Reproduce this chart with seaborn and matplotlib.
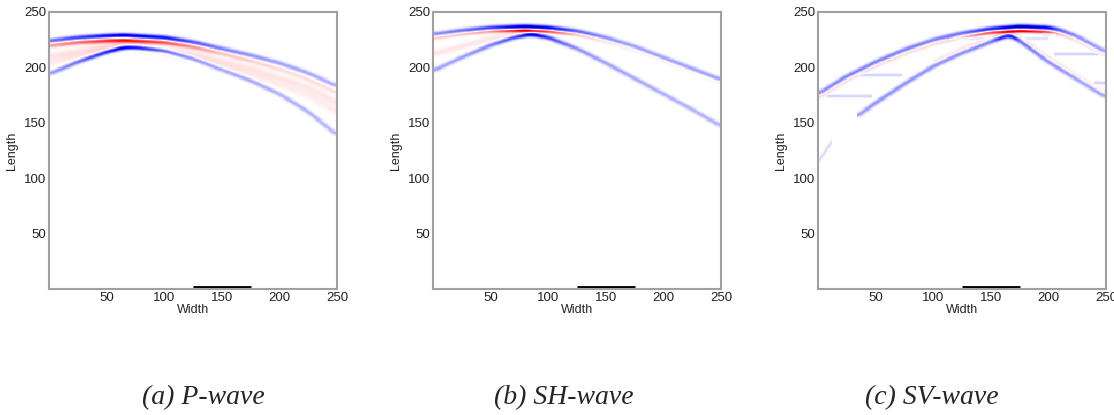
import numpy as np
import seaborn as sns
from matplotlib import pyplot as plt
from matplotlib.colors import LinearSegmentedColormap

sns.set_style('white')
plt.rcParams['font.family'] = ['Liberation Sans', 'DejaVu Sans']

# --- wavefront traces: x positions, y (Length), amplitude (+ red, - blue)
# (a) P-wave
pa_top_x = [0, 25, 50, 65, 100, 125, 150, 175, 200, 225, 250]
pa_top_y = [224, 227, 228.5, 229, 227, 223, 217, 211, 204, 195, 183]
pa_top_a = [-0.45, -0.6, -0.8, -0.9, -0.75, -0.55, -0.4, -0.35, -0.3, -0.28, -0.25]
pa_red_y = [219.5, 222.5, 224, 224.5, 222.5, 218.5, 212.5, 206, 198.5, 189, 177]
pa_red_a = [0.3, 0.45, 0.65, 0.75, 0.55, 0.35, 0.2, 0.15, 0.12, 0.1, 0.1]
pa_bot_x = [0, 25, 50, 65, 75, 100, 125, 150, 175, 200, 225, 250]
pa_bot_y = [194, 205, 214, 218, 218, 215, 208, 198, 188, 176, 160, 139]
pa_bot_a = [-0.3, -0.45, -0.75, -0.95, -0.9, -0.6, -0.4, -0.3, -0.28, -0.25, -0.25, -0.22]
pa_pink_x = [0, 65, 125, 175, 225, 250]
pa_pink_y = [210, 221, 212, 199, 182, 168]
pa_pink_a = [0.08, 0.1, 0.08, 0.08, 0.08, 0.08]
pa_pink2_y = [204, 220, 209, 194, 175, 160]
pa_pink2_a = [0.06, 0.08, 0.06, 0.06, 0.06, 0.06]

# (b) SH-wave
pb_top_x = [0, 25, 50, 80, 100, 125, 150, 175, 200, 225, 250]
pb_top_y = [230, 233.5, 236, 237, 236, 233, 227, 219, 209, 199, 189]
pb_top_a = [-0.35, -0.45, -0.6, -0.95, -0.8, -0.5, -0.35, -0.3, -0.3, -0.3, -0.3]
pb_red_y = [226, 230, 232.5, 233.5, 232.5, 229.5, 223.5, 215.5, 205.5, 195.5, 185.5]
pb_red_a = [0.15, 0.2, 0.35, 0.9, 0.6, 0.2, 0.1, 0.06, 0.05, 0.04, 0.04]
pb_bot_x = [0, 25, 50, 70, 85, 100, 125, 150, 175, 200, 225, 250]
pb_bot_y = [197, 209, 220, 227, 230, 227, 217, 204, 190, 176, 162, 147]
pb_bot_a = [-0.3, -0.3, -0.4, -0.6, -0.95, -0.6, -0.35, -0.3, -0.28, -0.26, -0.25, -0.25]
pb_pink_x = [0, 50, 85]
pb_pink_y = [212, 226, 232]
pb_pink_a = [0.08, 0.08, 0.12]

# (c) SV-wave
pc_top_x = [0, 25, 50, 75, 100, 125, 150, 175, 200, 210, 225, 250]
pc_top_y = [176, 192, 205, 216, 225, 231, 235, 237, 236, 234, 228, 214]
pc_top_a = [-0.35, -0.4, -0.4, -0.4, -0.4, -0.45, -0.7, -0.95, -0.8, -0.5, -0.35, -0.3]
pc_red_y = [172, 188, 201, 212, 221, 227, 231.5, 233, 232, 230, 224, 210]
pc_red_a = [0.12, 0.12, 0.12, 0.12, 0.12, 0.2, 0.6, 0.9, 0.6, 0.2, 0.1, 0.08]
pc_bot_x = [34, 50, 75, 100, 125, 150, 166, 175, 200, 225, 250]
pc_bot_y = [156, 168, 185, 201, 213, 223, 229.5, 224, 205, 189, 173]
pc_bot_a = [-0.3, -0.35, -0.35, -0.35, -0.35, -0.4, -0.75, -0.45, -0.35, -0.3, -0.28]
pc_botred_x = [100, 125, 150, 166, 175, 200, 225, 250]
pc_botred_y = [205, 217, 227, 232, 228, 209, 193, 177]
pc_botred_a = [0.1, 0.1, 0.12, 0.2, 0.12, 0.1, 0.08, 0.06]
# faint horizontal artefacts: start x, end x, y
pc_seg_x0 = [8, 35, 112, 195, 205, 240]
pc_seg_x1 = [47, 73, 200, 207, 243, 250]
pc_seg_y = [174, 193, 226, 230, 212, 186]
pc_seg_a = [-0.15, -0.15, -0.1, -0.15, -0.15, -0.15]
pc_diag_x = [1, 12]
pc_diag_y = [116, 133]
pc_diag_a = [-0.12, -0.12]

array_span = [125, 175]
ticks = [50, 100, 150, 200, 250]
captions = ['(a) P-wave', '(b) SH-wave', '(c) SV-wave']

N = 250
xg = np.arange(N) + 0.5
yg = np.arange(N) + 0.5


def add_trace(field, xp, yp, ap, sigma=1.4):
    yc = np.interp(xg, xp, yp)
    if len(xp) > 3:
        k = np.ones(9) / 9
        yc = np.convolve(np.pad(yc, 4, mode='edge'), k, mode='valid')
    amp = np.interp(xg, xp, ap, left=0, right=0)
    slope = np.gradient(yc, xg)
    s = sigma * np.sqrt(1 + slope ** 2)
    field += amp[None, :] * np.exp(-0.5 * ((yg[:, None] - yc[None, :]) / s[None, :]) ** 2)


def panel_field(traces):
    f = np.zeros((N, N))
    for t in traces:
        add_trace(f, *t)
    return np.clip(f, -1, 1)


fields = [
    panel_field([(pa_top_x, pa_top_y, pa_top_a), (pa_top_x, pa_red_y, pa_red_a),
                 (pa_bot_x, pa_bot_y, pa_bot_a), (pa_pink_x, pa_pink_y, pa_pink_a, 2.5),
                 (pa_pink_x, pa_pink2_y, pa_pink2_a, 2.5)]),
    panel_field([(pb_top_x, pb_top_y, pb_top_a), (pb_top_x, pb_red_y, pb_red_a, 1.1),
                 (pb_bot_x, pb_bot_y, pb_bot_a), (pb_pink_x, pb_pink_y, pb_pink_a, 2.0)]),
    panel_field([(pc_top_x, pc_top_y, pc_top_a), (pc_top_x, pc_red_y, pc_red_a, 1.1),
                 (pc_bot_x, pc_bot_y, pc_bot_a), (pc_botred_x, pc_botred_y, pc_botred_a, 1.1),
                 (pc_diag_x, pc_diag_y, pc_diag_a, 1.0)]
                + [([x0, x1], [y, y], [a, a], 1.0)
                   for x0, x1, y, a in zip(pc_seg_x0, pc_seg_x1, pc_seg_y, pc_seg_a)]),
]

cmap = LinearSegmentedColormap.from_list(
    'wave', [(0, '#000090'), (0.1, '#0000ff'), (0.5, '#ffffff'), (0.9, '#ff0000'), (1, '#a00000')],
    N=511)

fig = plt.figure(figsize=(11.14, 4.15), dpi=100)
lefts = [49, 433, 818]
cap_x = [203, 564, 932]
for i, f in enumerate(fields):
    ax = fig.add_axes([lefts[i] / 1114, 1 - 289 / 415, 288 / 1114, 277 / 415])
    sns.heatmap(f, ax=ax, cmap=cmap, vmin=-1, vmax=1, cbar=False,
                xticklabels=False, yticklabels=False)
    ax.set_ylim(0, N)
    ax.set_xlim(0, N)
    ax.plot(array_span, [1.3, 1.3], color='black', lw=3.5, solid_capstyle='butt')
    ax.set_xticks(ticks)
    ax.set_xticklabels(ticks, rotation=0)
    ax.set_yticks(ticks)
    ax.set_yticklabels(ticks, rotation=0)
    ax.tick_params(length=0, labelsize=9.5, pad=2, colors='#222222')
    ax.set_xlabel('Width', fontsize=9, labelpad=0, color='#222222')
    ax.set_ylabel('Length', fontsize=9, labelpad=4, color='#222222')
    for sp in ax.spines.values():
        sp.set_visible(True)
        sp.set_color('#a0a0a0')
        sp.set_linewidth(1.5)
        sp.set_zorder(5)
    fig.text(cap_x[i] / 1114, 1 - 398 / 415, captions[i], ha='center', va='center',
             fontsize=20, style='italic', family=['Liberation Serif', 'DejaVu Serif'])

fig.savefig('out.png', dpi=100)
